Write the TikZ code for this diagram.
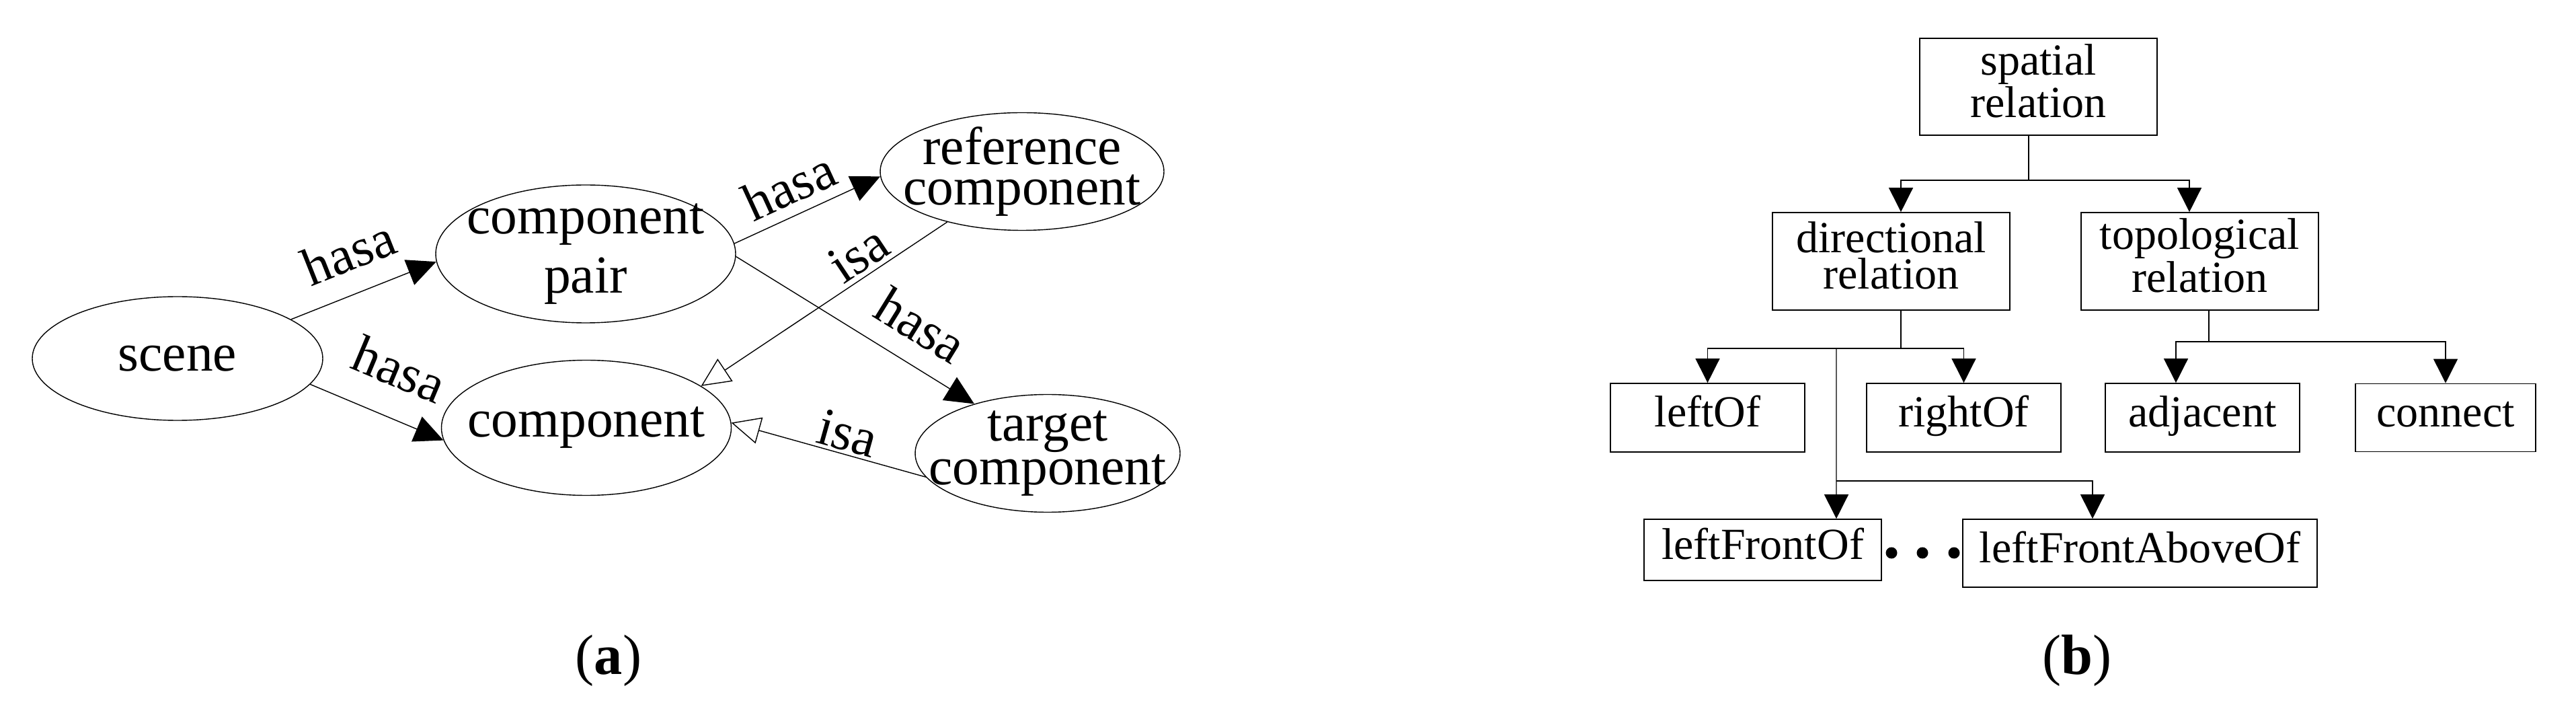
\documentclass[tikz,border=0pt]{standalone}
\usepackage{fontspec}
\setmainfont{Liberation Serif}
\usetikzlibrary{arrows.meta,shapes.geometric}
\newcommand{\ellfont}{\fontsize{22.6pt}{17pt}\selectfont}
\newcommand{\treefont}{\fontsize{18.8pt}{15.6pt}\selectfont}
\tikzset{
% Ellipse nodes for the graph, boxes for the relation tree
ellipse node/.style={ellipse,draw,inner sep=0,line width=0.4pt},
ellipse text/.style={align=center,inner sep=0,font=\ellfont},
relation box/.style={rectangle,draw,inner sep=0,line width=0.5pt,align=center,font=\treefont},
pair box/.style={relation box,text depth=0.18cm},
leaf box/.style={relation box,text height=0.44cm,text depth=0.16cm},
hasa arrow/.style={-{Triangle[length=0.43cm,width=0.40cm]},line width=0.4pt},
isa arrow/.style={-{Triangle[open,length=0.43cm,width=0.40cm]},line width=0.4pt},
tree arrow/.style={-{Triangle[length=0.36cm,width=0.36cm]},line width=0.4pt},
edge label/.style={sloped,above,inner sep=0,font=\ellfont},
caption/.style={anchor=base,inner sep=0,font=\fontsize{24pt}{28pt}\selectfont}
}

\begin{document}
\begin{tikzpicture}[]
  \path[use as bounding box,fill=white] (0,0) rectangle (38.31,10.62);
  % (a)
  \node[ellipse node,minimum width=4.32cm,minimum height=1.84cm,
    label={[ellipse text]center:scene}] (scene) at (2.64,5.29) {};
  \node[ellipse node,minimum width=4.46cm,minimum height=2.05cm,
    label={[ellipse text,font=\fontsize{22.6pt}{25pt}\selectfont]center:component\\pair}] (pair) at (8.71,6.845) {};
  \node[ellipse node,minimum width=4.22cm,minimum height=1.75cm,
    label={[ellipse text]center:reference\\component}] (reference) at (15.20,8.07) {};
  \node[ellipse node,minimum width=4.31cm,minimum height=2.01cm,
    label={[ellipse text]center:component}] (component) at (8.72,4.26) {};
  \node[ellipse node,minimum width=3.94cm,minimum height=1.75cm,
    label={[ellipse text]center:target\\component}] (target) at (15.58,3.88) {};
  \draw[hasa arrow] (scene.19) -- node[edge label,pos=0.5,outer sep=0.33cm] {hasa} (pair.183);
  \draw[hasa arrow] (scene.-11) -- node[edge label,pos=0.53,outer sep=0.44cm] {hasa} (component.185);
  \draw[hasa arrow] (pair.4) -- node[edge label,pos=0.46,outer sep=0.16cm] {hasa} (reference.182);
  \draw[hasa arrow] (pair.-1) -- node[edge label,pos=0.69,outer sep=0.30cm] {hasa} (target.146);
  \draw[isa arrow] (reference.214) -- node[edge label,pos=0.31,outer sep=0.07cm] {isa} (component.20);
  \draw[isa arrow] (target.191) -- node[edge label,pos=0.43,outer sep=0.05cm] {isa} (component.2);
  \node[caption] (caption a) at (9.05,0.60) {(\textbf{a})};
  % (b)
  \node[pair box,minimum width=3.53cm,minimum height=1.44cm] (spatial) at (30.315,9.33) {spatial\\relation};
  \node[pair box,minimum width=3.53cm,minimum height=1.45cm] (directional) at (28.125,6.735) {directional\\relation};
  \node[pair box,minimum width=3.53cm,minimum height=1.45cm] (topological) at (32.715,6.735) {topological\\relation};
  \node[leaf box,minimum width=2.89cm,minimum height=1.02cm] (leftOf) at (25.395,4.41) {leftOf};
  \node[leaf box,minimum width=2.89cm,minimum height=1.02cm] (rightOf) at (29.205,4.41) {rightOf};
  \node[leaf box,minimum width=2.89cm,minimum height=1.02cm] (adjacent) at (32.755,4.41) {adjacent};
  \node[leaf box,minimum width=2.68cm,minimum height=1.01cm] (connect) at (36.37,4.41) {connect};
  \node[leaf box,minimum width=3.53cm,minimum height=0.91cm] (leftFrontOf) at (26.215,2.445) {leftFrontOf};
  \node[leaf box,minimum width=5.27cm,minimum height=1.01cm] (leftFrontAboveOf) at (31.825,2.395) {leftFrontAboveOf};
  \coordinate (spatial fork) at (30.17,7.94);
  \draw (spatial.south -| spatial fork) -- (spatial fork);
  \draw[tree arrow] (spatial fork) -| ([xshift=1.45mm]directional.north);
  \draw[tree arrow] (spatial fork) -| ([xshift=-1.55mm]topological.north);
  \coordinate (directional fork) at (28.27,5.44);
  \draw (directional.south -| directional fork) -- (directional fork);
  \draw[tree arrow] (directional fork) -| (leftOf.north);
  \draw[tree arrow] (directional fork) -| (rightOf.north);
  \coordinate (front fork) at (27.31,3.47);
  \draw[tree arrow] (directional fork -| front fork) -- ([xshift=10.95mm]leftFrontOf.north);
  \draw[tree arrow] (front fork) -| ([xshift=-7.05mm]leftFrontAboveOf.north);
  \coordinate (topological fork) at (32.85,5.54);
  \draw (topological.south -| topological fork) -- (topological fork);
  \draw[tree arrow] (topological fork) -| ([xshift=-3.95mm]adjacent.north);
  \draw[tree arrow] (topological fork) -| (connect.north);
  \foreach \x in {28.13,28.59,29.06} \fill (\x,2.40) circle (0.085);
  \node[caption] (caption b) at (30.89,0.60) {(\textbf{b})};
\end{tikzpicture}
\end{document}
